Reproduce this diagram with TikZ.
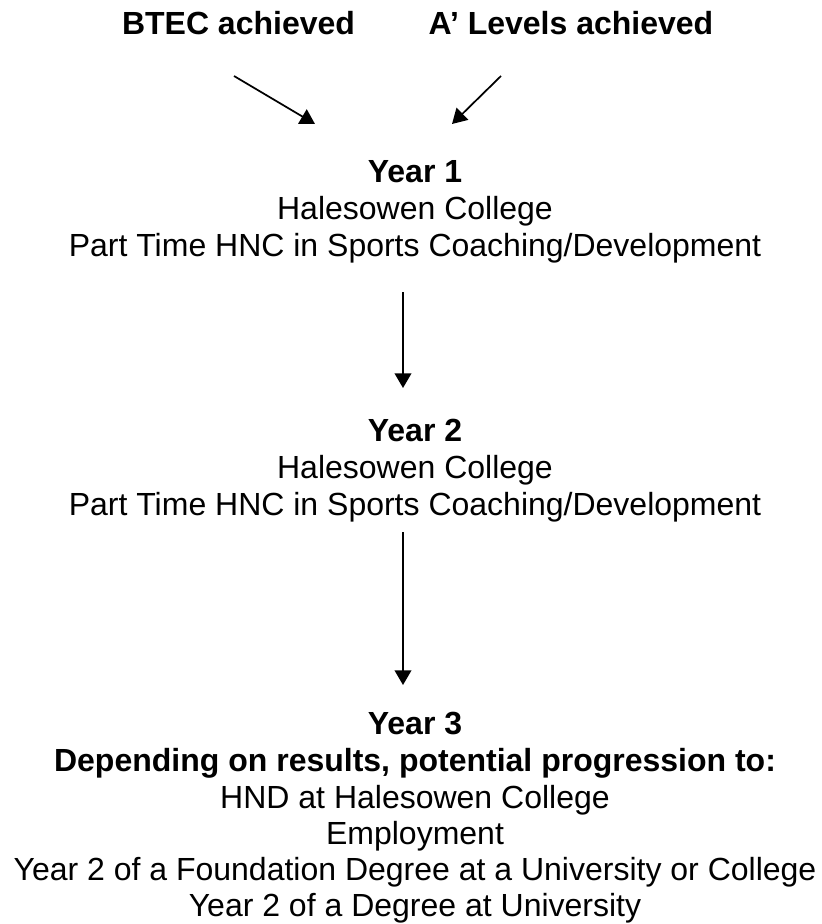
\documentclass[tikz,border=0pt]{standalone}
\usepackage{fontspec}
\setmainfont{Liberation Sans}
\usetikzlibrary{arrows.meta}
\begin{document}
\begin{tikzpicture}[x=0.75pt,y=-0.75pt,
  ln/.style={anchor=base, inner sep=0pt, font=\fontsize{24}{28}\selectfont},
  bl/.style={anchor=base, inner sep=0pt, font=\fontsize{24}{28}\selectfont\bfseries},
  arr/.style={-{Triangle[length=11pt,width=12.5pt]}, line width=1.3pt}]
\useasboundingbox (0,0) rectangle (821,924);
% top row
\node[bl] (btec) at (238.5,35) {BTEC achieved};
\node[bl] (alev) at (571,35) {A’ Levels achieved};
\coordinate (btecout) at (234,76);
\coordinate (alevout) at (501,76);
\coordinate (btecin) at (315,124);
\coordinate (alevin) at (452,124);
% year 1
\node[bl] (y1) at (415,182) {Year 1};
\node[ln] (y1a) at (415,219) {Halesowen College};
\node[ln] (y1b) at (415,256) {Part Time HNC in Sports Coaching/Development};
\coordinate (y1out) at (403,292);
\coordinate (y2in) at (403,388);
% year 2
\node[bl] (y2) at (415,441) {Year 2};
\node[ln] (y2a) at (415,478) {Halesowen College};
\node[ln] (y2b) at (415,515) {Part Time HNC in Sports Coaching/Development};
\coordinate (y2out) at (403,532);
\coordinate (y3in) at (403,685);
% year 3
\node[bl] (y3) at (415,734) {Year 3};
\node[bl] (y3a) at (415,771) {Depending on results, potential progression to:};
\node[ln] (y3b) at (415,808) {HND at Halesowen College};
\node[ln] (y3c) at (415,844) {Employment};
\node[ln] (y3d) at (415,880) {Year 2 of a Foundation Degree at a University or College};
\node[ln] (y3e) at (415,916) {Year 2 of a Degree at University};
% arrows
\draw[arr] (btecout) -- (btecin);
\draw[arr] (alevout) -- (alevin);
\draw[arr] (y1out) -- (y2in);
\draw[arr] (y2out) -- (y3in);
\end{tikzpicture}
\end{document}
